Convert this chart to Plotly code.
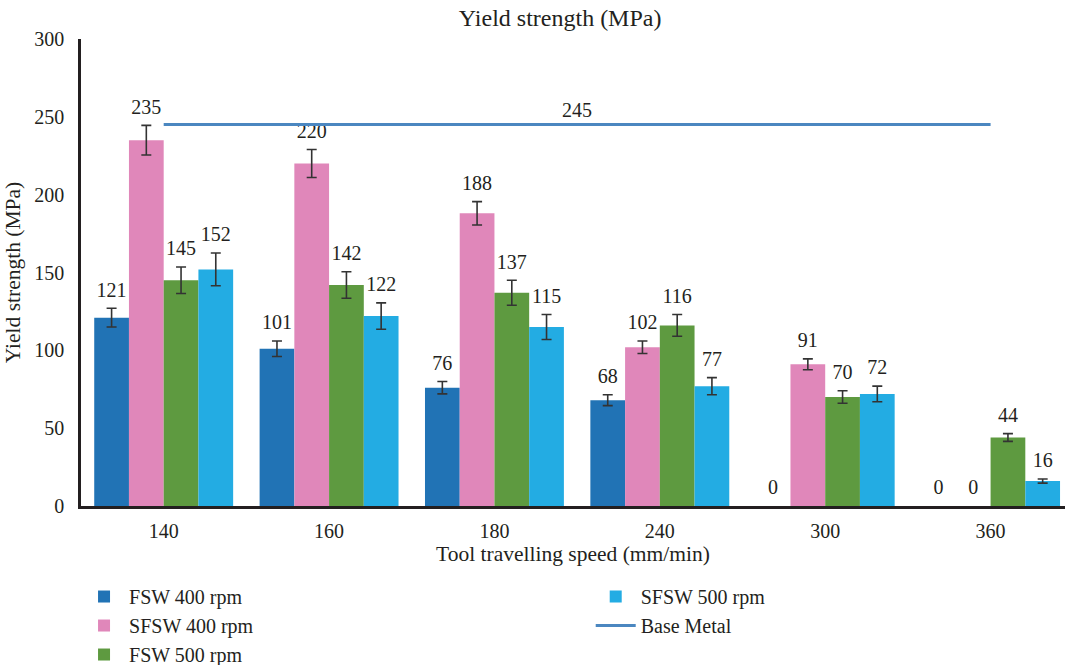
import plotly.graph_objects as go

speeds = ["140", "160", "180", "240", "300", "360"]

fsw_400 = [121, 101, 76, 68, 0, 0]
fsw_400_err = [6, 5, 4, 3.5, 0, 0]
sfsw_400 = [235, 220, 188, 102, 91, 0]
sfsw_400_err = [9.5, 9, 7.5, 4, 3.5, 0]
fsw_500 = [145, 142, 137, 116, 70, 44]
fsw_500_err = [8.5, 8.5, 8, 7, 4, 2.5]
sfsw_500 = [152, 122, 115, 77, 72, 16]
sfsw_500_err = [10.5, 8.5, 8, 5.5, 5, 1.3]
base_metal = 245

series = [
    ("FSW 400 rpm", fsw_400, fsw_400_err, "#2173b5", "legend"),
    ("SFSW 400 rpm", sfsw_400, sfsw_400_err, "#e087ba", "legend"),
    ("FSW 500 rpm", fsw_500, fsw_500_err, "#5e9a40", "legend"),
    ("SFSW 500 rpm", sfsw_500, sfsw_500_err, "#23ace3", "legend2"),
]

FONT = "Liberation Serif"
TXT = "#231f20"
LABEL_PAD = 3  # gap between error bar top and value label, in axis units

fig = go.Figure()

for i, (name, vals, errs, color, leg) in enumerate(series):
    # zero-valued bars have no visible body and no error bar
    shown_vals = [v if v else None for v in vals]
    shown_err = [e if v else None for v, e in zip(vals, errs)]
    fig.add_trace(go.Bar(
        x=speeds, y=shown_vals, name=name,
        marker=dict(color=color, line=dict(width=0)),
        offsetgroup=str(i), legend=leg,
        error_y=dict(type="data", array=shown_err, visible=True, color="#333333",
                     thickness=1.6, width=5),
    ))

# value labels sit above the error range (invisible span bars)
for i, (name, vals, errs, color, leg) in enumerate(series):
    fig.add_trace(go.Bar(
        x=speeds,
        base=[v - e for v, e in zip(vals, errs)],
        y=[2 * e + LABEL_PAD for e in errs],
        offsetgroup=str(i), showlegend=False, hoverinfo="skip",
        marker=dict(color="rgba(0,0,0,0)", line=dict(width=0)),
        text=[str(v) for v in vals], textposition="outside",
        constraintext="none", cliponaxis=False,
        textfont=dict(family=FONT, size=20, color=TXT),
    ))

fig.add_trace(go.Scatter(
    x=speeds, y=[base_metal] * len(speeds), mode="lines", name="Base Metal",
    line=dict(color="#4b87c0", width=3), legend="legend2",
))

fig.add_annotation(
    x=2.5, y=base_metal, xref="x", yref="y", text=str(base_metal),
    showarrow=False, yanchor="bottom", yshift=2,
    font=dict(family=FONT, size=20, color=TXT),
)

fig.update_layout(
    width=1071, height=665,
    margin=dict(l=81, r=6, t=39, b=159, autoexpand=False),
    paper_bgcolor="white", plot_bgcolor="white",
    font=dict(family=FONT, size=20, color=TXT),
    barmode="group", bargap=0.16, bargroupgap=0,
    title=dict(text="Yield strength (MPa)", x=0.523, xanchor="center",
               y=0.973, yanchor="middle", yref="container",
               font=dict(family=FONT, size=24, color=TXT)),
    xaxis=dict(
        type="category", range=[-0.5, 5.45], automargin=False,
        showline=True, linecolor=TXT, linewidth=2.5, showgrid=False,
        ticks="", ticklabelstandoff=5, zeroline=False,
        title=dict(text="Tool travelling speed (mm/min)", standoff=6,
                   font=dict(family=FONT, size=21.5, color=TXT)),
    ),
    yaxis=dict(
        range=[0, 300], tickvals=[0, 50, 100, 150, 200, 250, 300],
        automargin=False,
        showline=True, linecolor=TXT, linewidth=2.5, showgrid=False,
        ticks="", ticklabelstandoff=10, zeroline=False,
        title=dict(text="Yield strength (MPa)", standoff=8,
                   font=dict(family=FONT, size=21.5, color=TXT)),
    ),
    legend=dict(x=-0.002, xanchor="left", y=0.1323, yanchor="top", yref="container",
                orientation="v", bgcolor="rgba(0,0,0,0)",
                font=dict(family=FONT, size=20, color=TXT), itemwidth=40),
    legend2=dict(x=0.518, xanchor="left", y=0.1323, yanchor="top", yref="container",
                 orientation="v", bgcolor="rgba(0,0,0,0)",
                 font=dict(family=FONT, size=20, color=TXT), itemwidth=40),
)

fig.write_html(
    "out.html",
    config={"displayModeBar": False},
    post_script="document.body.style.margin='0';document.body.style.padding='0';",
)
